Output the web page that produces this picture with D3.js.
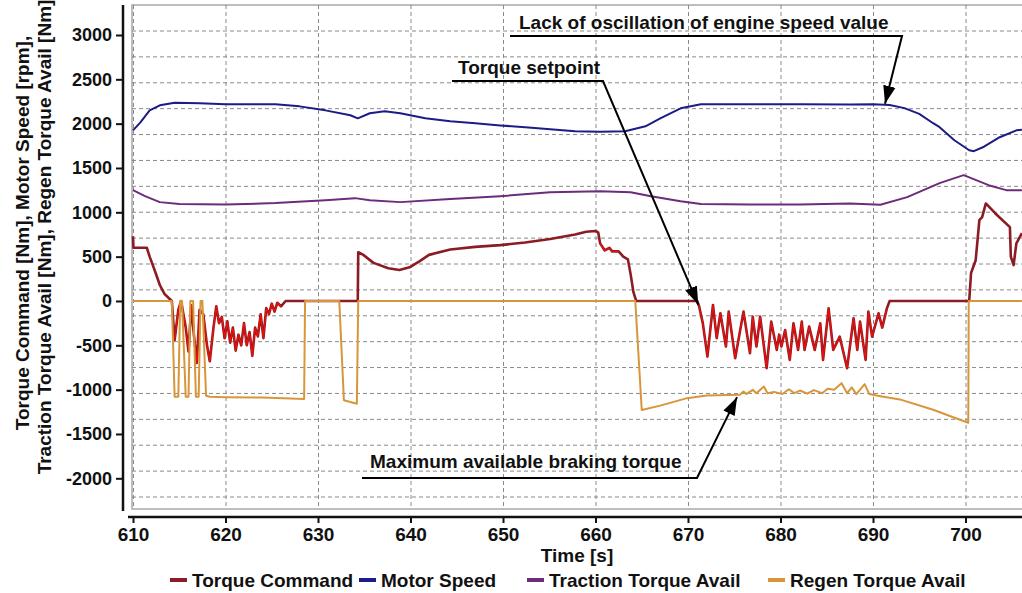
<!DOCTYPE html>
<html>
<head>
<meta charset="utf-8">
<script src="https://cdn.jsdelivr.net/npm/d3@7"></script>
<style>
  body { margin: 0; background: #fff; }
  svg { display: block; }
  text { font-family: "Liberation Sans", Arial, sans-serif; font-weight: bold; fill: #111; }
</style>
</head>
<body>
<svg id="chart" width="1022" height="593"></svg>
<script>
// --- data: [time s, value] ---
var torqueCommand = [
  [610, 730], [610.05, 600], [611.5, 600], [611.8, 500], [612.4, 330], [612.9, 180], [613.4, 80], [614, 20], [614.2, 0],
  [614.5, -440], [614.9, -100], [615.2, 0], [615.7, -300], [616.0, -570], [616.3, -50], [616.6, -400], [616.9, -700],
  [617.2, -100], [617.6, -150], [618.0, -500], [618.3, -680], [618.7, -300], [619.0, -60], [619.3, -250], [619.6, -180],
  [619.9, -420], [620.2, -230], [620.5, -470], [620.8, -300], [621.1, -560], [621.4, -380], [621.7, -500], [622.0, -250],
  [622.3, -500], [622.6, -350], [622.9, -620], [623.2, -300], [623.5, -400], [623.8, -150], [624.1, -420], [624.4, -80],
  [624.7, -150], [625.0, -30], [625.3, -120], [625.6, -20], [626.0, -60], [626.5, 0],
  [634.3, 0], [634.35, 550], [634.9, 520], [636, 430], [637.6, 370], [638.8, 350], [639.9, 380], [641, 450], [642, 520],
  [644.3, 580], [647, 610], [649.7, 630], [652.4, 660], [655.1, 700], [657.8, 750], [659, 780], [660, 790], [660.3, 770],
  [660.5, 650], [661, 570], [661.5, 600], [661.8, 560], [662.5, 560], [663, 500], [663.5, 470], [663.8, 300], [664.1, 100],
  [664.4, 0], [671.0, 0],
  [671.2, -60], [671.6, -250], [672.1, -627], [672.7, -45], [673.1, -420], [673.5, -139], [674.1, -514], [674.4, -120],
  [675.1, -645], [676.0, -120], [676.7, -589], [677.0, -177], [677.4, -514], [677.8, -177], [678.5, -758], [679.0, -233],
  [679.6, -552], [679.85, -380], [680.1, -514], [680.5, -327], [681.0, -664], [681.4, -252], [681.9, -552], [682.3, -233],
  [682.6, -552], [683.1, -289], [683.7, -552], [684.3, -252], [684.6, -664], [685.2, -83], [685.7, -552], [686.4, -402],
  [687.2, -758], [687.9, -195], [688.3, -552], [688.6, -233], [689.2, -664], [689.5, -120], [689.9, -402], [690.6, -139],
  [691.0, -300], [691.5, -83], [691.8, 0],
  [700.4, 0], [700.6, 315], [701.1, 460], [701.5, 912], [701.8, 945], [702.2, 1100], [703.2, 990], [704.8, 833],
  [704.9, 500], [705.2, 405], [705.5, 650], [706.1, 765]
];
var motorSpeed = [
  [610, 1925], [610.8, 2015], [611.8, 2150], [612.9, 2207], [614.5, 2235], [617.2, 2230], [620, 2220], [625.4, 2218],
  [628, 2195], [630.8, 2150], [633.5, 2095], [634.3, 2060], [635.6, 2117], [637.2, 2140], [638.9, 2117], [641.6, 2060],
  [644.3, 2027], [647, 2005], [649.7, 1980], [652.4, 1960], [655.1, 1937], [657.8, 1914], [660.5, 1910], [663.2, 1914],
  [665.4, 1970], [667, 2060], [669.2, 2173], [671.4, 2218], [676.7, 2218], [682.1, 2218], [687.5, 2215], [690, 2218],
  [691.8, 2210], [693.4, 2175], [695, 2110], [696.5, 2005], [697.2, 1960], [698.8, 1813], [700.4, 1700], [700.9, 1690],
  [702, 1740], [703.7, 1847], [705.5, 1925], [706.1, 1930]
];
var tractionAvail = [
  [610, 1250], [611.3, 1182], [612.9, 1115], [615, 1093], [620, 1087], [625.4, 1104], [630.8, 1137], [634, 1160],
  [635.6, 1137], [638.9, 1115], [644.3, 1149], [649.7, 1182], [655.1, 1227], [660.5, 1239], [663.8, 1227], [666, 1182],
  [669.2, 1126], [671.4, 1093], [676.7, 1087], [682.1, 1087], [687.5, 1100], [690.8, 1085], [693.7, 1171], [697.2, 1329],
  [699.8, 1419], [702.5, 1306], [704.4, 1250], [706.1, 1250]
];
var regenAvail = [
  [610, 0], [614.2, 0], [614.5, -1080], [614.9, -1080], [615.1, 0], [615.3, 0], [615.7, -1080], [616.0, -1080],
  [616.2, 0], [616.5, 0], [616.8, -1080], [617.1, -1080], [617.3, 0], [617.5, 0], [617.9, -1070], [618.3, -1080],
  [620, -1085], [624, -1090], [628.5, -1105], [628.6, 0], [632.3, 0], [632.8, -1120], [634.2, -1160], [634.35, 0],
  [664.3, 0], [665.0, -1230], [667, -1180], [669.9, -1096], [672, -1066], [675.6, -1058], [676, -1021], [676.3, -1050],
  [677.0, -1002], [677.4, -1040], [678.2, -965], [678.6, -1040], [679.3, -1025], [680.2, -1050], [680.9, -995],
  [681.5, -1040], [682.1, -1010], [682.9, -1045], [683.6, -1005], [684.5, -1040], [685.1, -990], [685.8, -1000],
  [686.6, -927], [687.2, -1040], [687.7, -975], [688.2, -1050], [689.1, -938], [689.6, -1050], [690.5, -1070],
  [692.9, -1110], [696.5, -1227], [699.4, -1340], [700.3, -1374], [700.35, 0], [706.1, 0]
];
// spans where the torque command oscillates (drawn brighter)
var noisySpans = [[614.2, 626.5], [660.3, 662.6], [671.0, 691.8]];

var xTicks = [610, 620, 630, 640, 650, 660, 670, 680, 690, 700];
var yTicks = [-2000, -1500, -1000, -500, 0, 500, 1000, 1500, 2000, 2500, 3000];

var seriesNames = ['Torque Command', 'Motor Speed', 'Traction Torque Avail', 'Regen Torque Avail'];
var seriesColors = ['#8c1c24', '#1c1c86', '#6c2c7c', '#d8963a'];

var annotations = [
  {text: 'Lack of oscillation of engine speed value', tx: 519, ty: 29, ux0: 510, ux1: 902, uy: 36, t: 691.3, v: 2225},
  {text: 'Torque setpoint', tx: 458, ty: 74, ux0: 452, ux1: 603, uy: 81, t: 671.1, v: -40},
  {text: 'Maximum available braking torque', tx: 370, ty: 468, ux0: 362, ux1: 697, uy: 478, t: 675.3, v: -1085}
];

// --- layout ---
var svg = d3.select('#chart');
var plot = {left: 132, top: 5, right: 1030, bottom: 509};

var x = d3.scaleLinear().domain([610, 700]).range([133, 965.5]);
var y = d3.scaleLinear().domain([-2000, 3000]).range([478.3, 35]);

// plot frame
svg.append('rect')
  .attr('x', plot.left).attr('y', plot.top)
  .attr('width', plot.right - plot.left).attr('height', plot.bottom - plot.top)
  .attr('fill', '#fff').attr('stroke', '#a8a8a8').attr('stroke-width', 1.5);

// dashed grid (horizontal lines are spaced independently of the ticks in the source)
var grid = svg.append('g').attr('stroke', '#8a8a8a').attr('stroke-width', 1).attr('stroke-dasharray', '4,3');
d3.range(19).forEach(function(i) {
  var gy = 31 + i * (497 - 31) / 18;
  grid.append('line').attr('x1', plot.left).attr('x2', plot.right).attr('y1', gy).attr('y2', gy);
});
xTicks.forEach(function(t) {
  grid.append('line').attr('x1', x(t) + 0.5).attr('x2', x(t) + 0.5).attr('y1', plot.top).attr('y2', plot.bottom);
});

// series
var line = d3.line().x(function(d) { return x(d[0]); }).y(function(d) { return y(d[1]); });
var lines = svg.append('g').attr('fill', 'none').attr('stroke-linejoin', 'round');

lines.append('path').datum(torqueCommand).attr('d', line)
  .attr('stroke', seriesColors[0]).attr('stroke-width', 2.6);
var noisy = d3.line()
  .defined(function(d) { return noisySpans.some(function(s) { return d[0] > s[0] && d[0] < s[1]; }); })
  .x(function(d) { return x(d[0]); }).y(function(d) { return y(d[1]); });
lines.append('path').datum(torqueCommand).attr('d', noisy)
  .attr('stroke', '#e8100c').attr('stroke-width', 1.3);

lines.append('path').datum(motorSpeed).attr('d', line)
  .attr('stroke', seriesColors[1]).attr('stroke-width', 2);
lines.append('path').datum(tractionAvail).attr('d', line)
  .attr('stroke', seriesColors[2]).attr('stroke-width', 2);
lines.append('path').datum(regenAvail).attr('d', line)
  .attr('stroke', seriesColors[3]).attr('stroke-width', 2);

// y axis (plain hyphen for negatives, as in the source)
var yAxis = svg.append('g').attr('transform', 'translate(123,0)')
  .call(d3.axisLeft(y).tickValues(yTicks).tickFormat(String).tickSize(7).tickPadding(4));
yAxis.select('.domain').remove();
yAxis.selectAll('.tick line').attr('stroke', '#111').attr('stroke-width', 2);
yAxis.selectAll('.tick text').style('font-size', '18px').attr('fill', '#111');
svg.append('line').attr('x1', 123).attr('x2', 123).attr('y1', plot.top).attr('y2', 511)
  .attr('stroke', '#111').attr('stroke-width', 2.5);

// x axis
var xAxis = svg.append('g').attr('transform', 'translate(0,517)')
  .call(d3.axisBottom(x).tickValues(xTicks).tickFormat(String).tickSize(6).tickPadding(5));
xAxis.select('.domain').remove();
xAxis.selectAll('.tick line').attr('stroke', '#111').attr('stroke-width', 2);
xAxis.selectAll('.tick text').style('font-size', '19px').attr('fill', '#111');
svg.append('line').attr('x1', 128).attr('x2', 1022).attr('y1', 517).attr('y2', 517)
  .attr('stroke', '#111').attr('stroke-width', 2.5);

// axis titles
svg.append('text').attr('x', 577).attr('y', 562).attr('text-anchor', 'middle')
  .style('font-size', '19px').text('Time [s]');
var yTitle = svg.append('g').style('font-size', '19px').attr('text-anchor', 'middle');
yTitle.append('text').attr('transform', 'translate(29,233) rotate(-90)')
  .text('Torque Command [Nm], Motor Speed [rpm],');
yTitle.append('text').attr('transform', 'translate(51,237) rotate(-90)')
  .text('Traction Torque Avail [Nm], Regen Torque Avail [Nm]');

// legend
var legendX = [170, 359, 527, 768];
var legend = svg.append('g');
seriesNames.forEach(function(name, i) {
  legend.append('line').attr('x1', legendX[i]).attr('x2', legendX[i] + 17)
    .attr('y1', 580).attr('y2', 580).attr('stroke', seriesColors[i]).attr('stroke-width', 4);
  legend.append('text').attr('x', legendX[i] + 22).attr('y', 587)
    .style('font-size', '19px').text(name);
});

// annotations with arrows
svg.append('defs').append('marker')
  .attr('id', 'arrow').attr('viewBox', '0 0 10 10').attr('refX', 10).attr('refY', 5)
  .attr('markerWidth', 9).attr('markerHeight', 9).attr('orient', 'auto')
  .append('path').attr('d', 'M0,1.5 L10,5 L0,8.5 Z').attr('fill', '#000');

var notes = svg.append('g');
annotations.forEach(function(a) {
  notes.append('text').attr('x', a.tx).attr('y', a.ty).style('font-size', '19px').text(a.text);
  notes.append('polyline')
    .attr('points', [[a.ux0, a.uy], [a.ux1, a.uy], [x(a.t), y(a.v)]].join(' '))
    .attr('fill', 'none').attr('stroke', '#000').attr('stroke-width', 2)
    .attr('marker-end', 'url(#arrow)');
});
</script>
</body>
</html>
